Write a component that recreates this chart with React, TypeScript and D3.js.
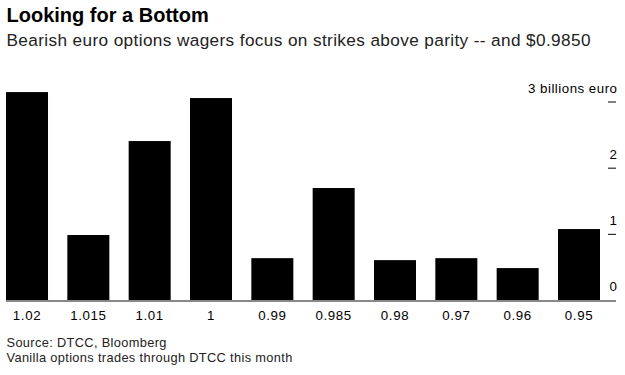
import React from "react";
import * as d3 from "d3";

const categories: string[] = ["1.02", "1.015", "1.01", "1", "0.99", "0.985", "0.98", "0.97", "0.96", "0.95"];
const values: number[] = [3.15, 0.99, 2.41, 3.06, 0.64, 1.70, 0.61, 0.64, 0.49, 1.08];
const yTicks: number[] = [0, 1, 2, 3];
const yUnit = "billions euro";

const title = "Looking for a Bottom";
const subtitle = "Bearish euro options wagers focus on strikes above parity -- and $0.9850";
const source = "Source: DTCC, Bloomberg";
const note = "Vanilla options trades through DTCC this month";

const W = 625;
const H = 375;
const FONT = "'Liberation Sans', Arial, Helvetica, sans-serif";

export default function App() {
  const x = d3.scaleBand<string>().domain(categories).range([6, 600]).paddingInner(0.315).paddingOuter(0);
  const y = d3.scaleLinear().domain([0, 3]).range([300.5, 102]);
  const axisRight = 617.5;

  return (
    <div style={{ position: "absolute", left: 0, top: 0, width: W, height: H, background: "#fff" }}>
      <svg width={W} height={H} style={{ display: "block", fontFamily: FONT }}>
        <rect x={0} y={0} width={W} height={H} fill="#fff" />
        <text x={6.5} y={22} fontSize={20} fontWeight={700} fill="#000">{title}</text>
        <text x={6.5} y={46} fontSize={17.2} letterSpacing={0.38} fill="#222">{subtitle}</text>

        {categories.map((c, i) => (
          <rect key={c} x={x(c)} y={y(values[i])} width={x.bandwidth()} height={y(0) - y(values[i])} fill="#000" />
        ))}

        <line x1={6} x2={616} y1={y(0) + 0.5} y2={y(0) + 0.5} stroke="#888" strokeWidth={2} />

        {yTicks.map((t) => (
          <g key={t}>
            {t > 0 && (
              <line x1={608} x2={616} y1={y(t)} y2={y(t)} stroke="#000" strokeWidth={1} />
            )}
            <text x={axisRight} y={y(t) - 9.5} fontSize={13.3} letterSpacing={0.5} textAnchor="end" fill="#000">
              {t === 3 ? `${t} ${yUnit}` : String(t)}
            </text>
          </g>
        ))}

        {categories.map((c) => (
          <text key={c} x={(x(c) as number) + x.bandwidth() / 2} y={319.5} fontSize={13.3} letterSpacing={0.6} textAnchor="middle" fill="#000">
            {c}
          </text>
        ))}

        <text x={6.5} y={346.5} fontSize={12.8} letterSpacing={0.35} fill="#222">{source}</text>
        <text x={6.5} y={361.5} fontSize={12.8} letterSpacing={0.35} fill="#222">{note}</text>
      </svg>
    </div>
  );
}
